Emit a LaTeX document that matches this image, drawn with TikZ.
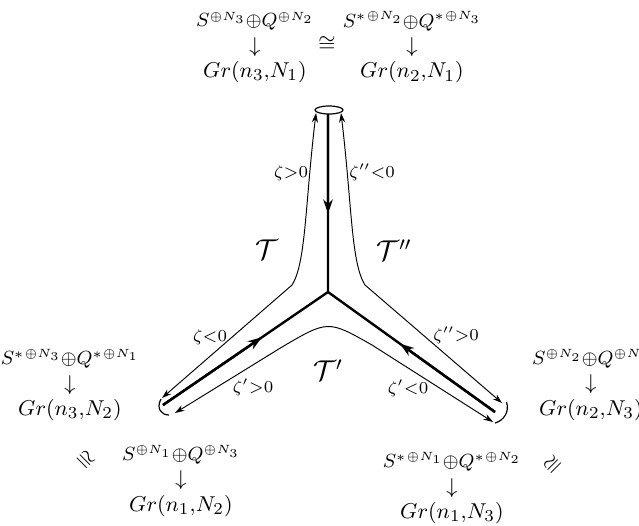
\documentclass[tikz,border=0pt]{standalone}
\usepackage{amsmath}
\usepackage{tikz}
\usetikzlibrary{arrows.meta,calc}
\tikzset{
  sheet/.style={line width=1pt},
  flow/.style={-{Stealth[length=6pt,width=4pt]}, line width=1pt},
  wall/.style={<->, >={Stealth[length=4pt,width=2.6pt]}, line width=0.4pt},
  rim/.style={line width=0.5pt},
  lbl/.style={align=center, font=\fontsize{9.4}{10.6}\selectfont, inner sep=0pt},
  sm/.style={font=\scriptsize, inner sep=0pt},
  reg/.style={font=\large, inner sep=0pt},
}
\newcommand{\fib}{\fontsize{8.5}{10.6}\selectfont}

\begin{document}
\begin{tikzpicture}[x=0.419pt,y=0.419pt]
  \useasboundingbox (0,0) rectangle (639,525);
  % junction and the three thick legs
  \coordinate (c) at (328,233);
  \coordinate (top) at (328,411);
  \coordinate (bl) at (163,120);
  \coordinate (br) at (495,113);
  \draw[rim] (329,415) ellipse (14 and 4);
  \draw[sheet] (top) -- (c) -- (bl);
  \draw[sheet] (c) -- (br);
  \draw[flow] (top) -- ($(top)!0.56!(c)$);
  \draw[flow] (bl) -- ($(bl)!0.6!(c)$);
  \draw[flow] (br) -- ($(br)!0.57!(c)$);
  % thin walls
  \coordinate (lt) at (316,412);
  \coordinate (lb) at (162,127);
  \coordinate (rt) at (341,412);
  \coordinate (rb) at (502,122);
  \coordinate (ml) at (175,112);
  \coordinate (mr) at (493,103);
  \draw[wall] (lt) .. controls (305,320) and (306,262) .. (292,240) -- (lb);
  \draw[wall] (rt) .. controls (352,320) and (351,262) .. (365,240) -- (rb);
  \draw[wall] (ml) -- (282,178) .. controls (328,205) .. (372,180) -- (mr);
  \draw[rim] (161,126) .. controls (156,117) and (161,110) .. (169,110);
  \draw[rim] (506.5,123) .. controls (510,113) and (503,104) .. (495,102);
  % chamber labels
  \node[sm] (z1) at (291,352) {$\zeta{>}0$};
  \node[sm] (z2) at (372,353) {$\zeta''{<}0$};
  \node[sm] (z3) at (210,188) {$\zeta{<}0$};
  \node[sm] (z4) at (456,190) {$\zeta''{>}0$};
  \node[sm] (z5) at (253,138) {$\zeta'{>}0$};
  \node[sm] (z6) at (408,137) {$\zeta'{<}0$};
  \node[reg] (T1) at (267,275) {$\mathcal{T}$};
  \node[reg] (T2) at (394,275) {$\mathcal{T}''$};
  \node[reg] (T3) at (328,155) {$\mathcal{T}'$};
  % bundles
  \node[lbl] (gtl) at (255,477.5) {\fib$S^{\scriptscriptstyle\oplus N_3}{\oplus}Q^{\scriptscriptstyle\oplus N_2}$\\$\downarrow$\\$Gr(n_3{,}N_1)$};
  \node[lbl] (iso1) at (327,481) {$\cong$};
  \node[lbl] (gtr) at (412,477.5) {\fib${S^{*}}^{\scriptscriptstyle\oplus N_2}{\oplus}{Q^{*}}^{\scriptscriptstyle\oplus N_3}$\\$\downarrow$\\$Gr(n_2{,}N_1)$};
  \node[lbl] (glf) at (70,140) {\fib${S^{*}}^{\scriptscriptstyle\oplus N_3}{\oplus}{Q^{*}}^{\scriptscriptstyle\oplus N_1}$\\$\downarrow$\\$Gr(n_3{,}N_2)$};
  \node[lbl] (grt) at (591,140) {\fib$S^{\scriptscriptstyle\oplus N_2}{\oplus}Q^{\scriptscriptstyle\oplus N_1}$\\$\downarrow$\\$Gr(n_2{,}N_3)$};
  \node[lbl] (gbl) at (181,44) {\fib$S^{\scriptscriptstyle\oplus N_1}{\oplus}Q^{\scriptscriptstyle\oplus N_3}$\\$\downarrow$\\$Gr(n_1{,}N_2)$};
  \node[lbl] (gbr) at (452,37) {\fib${S^{*}}^{\scriptscriptstyle\oplus N_1}{\oplus}{Q^{*}}^{\scriptscriptstyle\oplus N_2}$\\$\downarrow$\\$Gr(n_1{,}N_3)$};
  \node[lbl, rotate=-45] (iso2) at (85,65) {$\cong$};
  \node[lbl, rotate=45] (iso3) at (553,60) {$\cong$};
\end{tikzpicture}
\end{document}
